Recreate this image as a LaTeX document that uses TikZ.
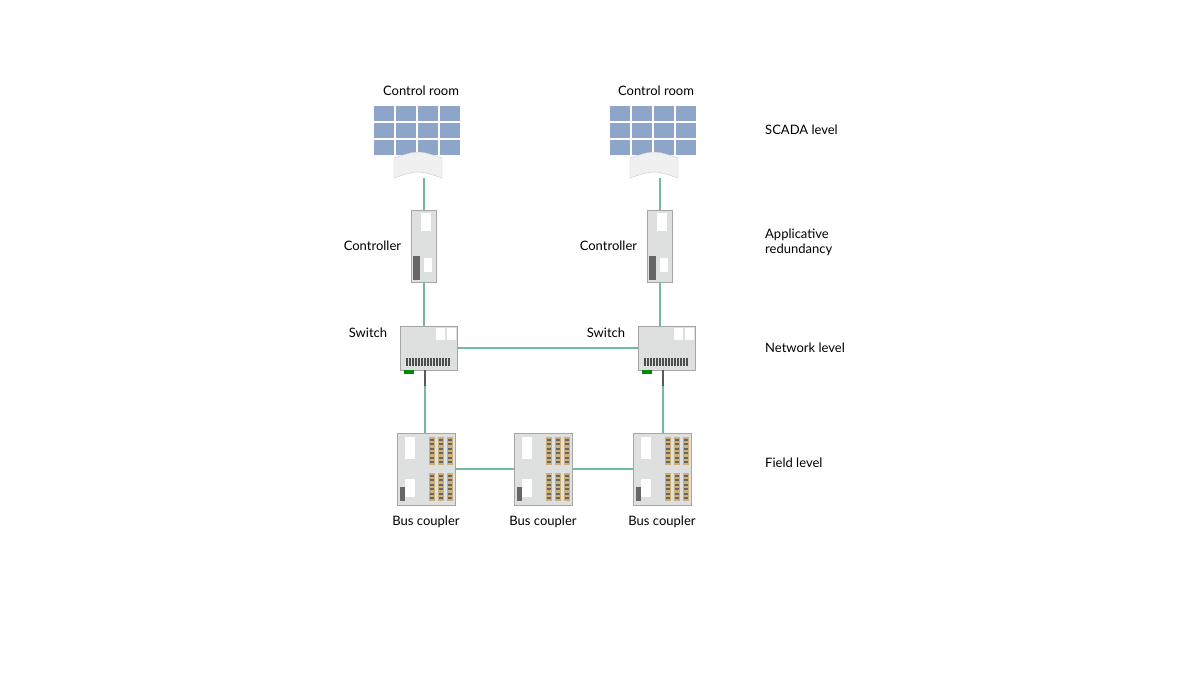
\documentclass[tikz,border=0pt]{standalone}
\usepackage{fontspec}
\setmainfont{Lato}
\usetikzlibrary{positioning}
\usetikzlibrary{calc}
\definecolor{cable}{RGB}{112,186,160}
\definecolor{screen}{RGB}{140,165,200}
\definecolor{housing}{RGB}{222,224,224}
\definecolor{terminal}{RGB}{205,175,120}
\tikzset{
	lbl/.style={font=\fontsize{13}{15}\selectfont, inner sep=0pt},
	lvl/.style={lbl, anchor=west, align=left},
	link/.style={draw=cable, line width=1.2pt},
	device/.style={draw=gray!70, fill=housing, inner sep=0pt, line width=.4pt},
}
\begin{document}
\begin{tikzpicture}[x=1pt,y=-1pt]
	\useasboundingbox (0,0) rectangle (1200,675);
	% control rooms
	\foreach \n/\cx in {1/418, 2/654} {
		\node [device, fill=none, draw=none, minimum width=88pt, minimum height=74pt] (room\n) at (\cx,141) {};
		\foreach \i in {0,...,3} \foreach \j in {0,1,2}
			\fill [screen] (\cx-44+\i*22,106+\j*17) rectangle ++(20,15);
		\fill [gray!12, draw=gray!40] (\cx-24,158) .. controls (\cx,150) .. (\cx+24,158) -- (\cx+24,178) .. controls (\cx,170) .. (\cx-24,178) -- cycle;
	}
	\node [lbl] (room1lbl) at (421,91) {Control room};
	\node [lbl] (room2lbl) at (656,91) {Control room};
	% controllers
	\node [device, minimum width=25pt, minimum height=72pt] (ctrl1) at (424,246) {};
	\node [device, minimum width=25pt, minimum height=72pt] (ctrl2) at (660,246) {};
	\foreach \n in {1,2} {
		\fill [white] ($(ctrl\n.north)+(-3,3)$) rectangle ++(10,18);
		\fill [gray!80!black] ($(ctrl\n.south west)+(2,-26)$) rectangle ++(7,24);
		\fill [white] ($(ctrl\n.south)+(0,-24)$) rectangle ++(8,14);
	}
	\node [lbl, left=10pt of ctrl1] (ctrl1lbl) {Controller};
	\node [lbl, left=10pt of ctrl2] (ctrl2lbl) {Controller};
	% switches
	\node [device, minimum width=57pt, minimum height=44pt] (sw1) at (429,348) {};
	\node [device, minimum width=57pt, minimum height=44pt] (sw2) at (667,348) {};
	\foreach \n in {1,2} {
		\fill [white] ($(sw\n.north east)+(-22,2)$) rectangle ++(9,12);
		\fill [white] ($(sw\n.north east)+(-11,2)$) rectangle ++(9,12);
		\foreach \k in {0,...,14} \fill [gray!60!black] ($(sw\n.south west)+(6+\k*3,-12)$) rectangle ++(1.5,8);
		\fill [green!55!black] ($(sw\n.south west)+(4,0)$) rectangle ++(10,4);
		\coordinate (plug\n) at ($(sw\n.south)+(-4,16)$);
		\draw [gray!70!black, line width=2pt] (sw\n.south -| plug\n) -- (plug\n);
	}
	\node [lbl] (sw1lbl) at (368,333) {Switch};
	\node [lbl] (sw2lbl) at (606,333) {Switch};
	% bus couplers
	\node [device, minimum width=58pt, minimum height=72pt] (bc1) at (426,469) {};
	\node [device, minimum width=58pt, minimum height=72pt] (bc2) at (543,469) {};
	\node [device, minimum width=58pt, minimum height=72pt] (bc3) at (662,469) {};
	\foreach \n in {1,2,3} {
		\fill [white] ($(bc\n.north west)+(8,4)$) rectangle ++(10,22);
		\fill [white] ($(bc\n.south west)+(8,-26)$) rectangle ++(10,18);
		\fill [gray!80!black] ($(bc\n.south west)+(3,-18)$) rectangle ++(5,14);
		\foreach \c in {0,1,2} \foreach \r in {0,1} {
			\fill [terminal] ($(bc\n.north west)+(32+\c*9,4+\r*36)$) rectangle ++(6,28);
			\foreach \k in {0,...,5} \fill [black!60] ($(bc\n.north west)+(33+\c*9,6+\r*36+\k*4.5)$) rectangle ++(4,2);
		}
	}
	\node [lbl, below=11pt of bc1] (bc1lbl) {Bus coupler};
	\node [lbl, below=11pt of bc2] (bc2lbl) {Bus coupler};
	\node [lbl, below=11pt of bc3] (bc3lbl) {Bus coupler};
	% cabling
	\draw [link] (ctrl1.north |- room1.south) -- (ctrl1.north);
	\draw [link] (ctrl2.north |- room2.south) -- (ctrl2.north);
	\draw [link] (ctrl1.south) -- (ctrl1.south |- sw1.north);
	\draw [link] (ctrl2.south) -- (ctrl2.south |- sw2.north);
	\draw [link] (sw1.east) -- (sw2.west);
	\draw [link] (plug1) -- (plug1 |- bc1.north);
	\draw [link] (plug2) -- (plug2 |- bc3.north);
	\draw [link] (bc1.east) -- (bc2.west);
	\draw [link] (bc2.east) -- (bc3.west);
	% levels
	\node [lvl] (scada) at (765,130) {SCADA level};
	\node [lvl] (appl) at (765,242) {Applicative\\redundancy};
	\node [lvl] (net) at (765,348) {Network level};
	\node [lvl] (field) at (765,463) {Field level};
\end{tikzpicture}
\end{document}
